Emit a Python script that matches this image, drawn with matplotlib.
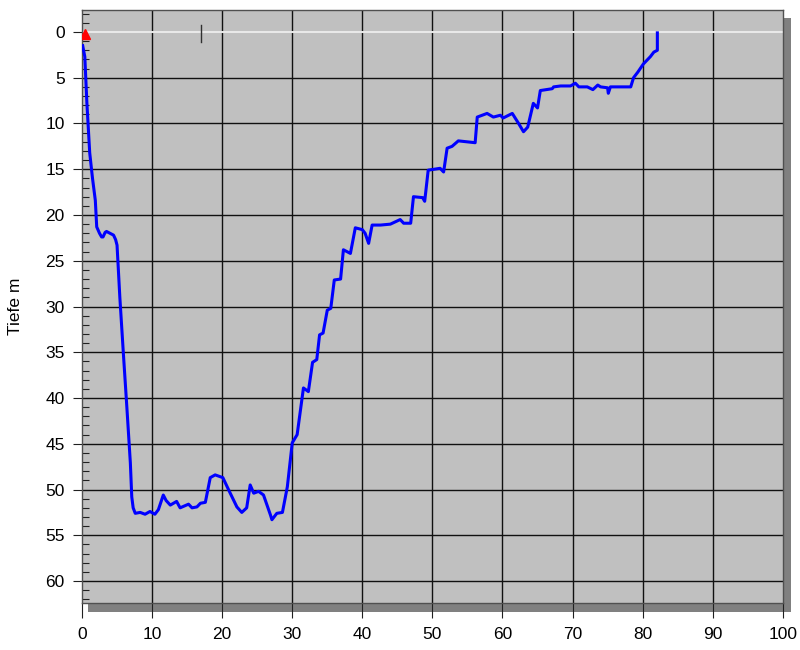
import numpy as np
import matplotlib
matplotlib.use('Agg')
import matplotlib.pyplot as plt
from matplotlib.patches import Rectangle
from matplotlib.ticker import MultipleLocator

plt.rcParams['font.family'] = ['Liberation Sans', 'DejaVu Sans']

# dive profile: time (min) and depth (m)
time = [0.1, 0.4, 0.7, 1.1, 1.5, 1.9, 2.1, 2.5, 2.8, 3.0, 3.3, 3.5, 4.0, 4.5, 4.8, 5.0,
        5.4, 5.9, 6.4, 6.9, 7.1, 7.3, 7.6, 8.3, 9.0, 9.7, 10.4, 10.9, 11.6, 12.0, 12.6,
        13.5, 14.0, 15.2, 15.7, 16.4, 16.9, 17.6, 18.3, 19.0, 20.1, 20.9, 22.1, 22.8,
        23.5, 24.0, 24.5, 25.2, 25.9, 26.9, 27.1, 27.8, 28.6, 29.3, 30.0, 30.7, 31.6,
        32.3, 32.9, 33.5, 33.9, 34.4, 35.0, 35.5, 36.0, 36.9, 37.3, 38.3, 39.0, 40.0,
        40.4, 40.9, 41.4, 42.6, 44.0, 45.4, 45.9, 46.9, 47.3, 48.6, 48.9, 49.4, 51.1,
        51.6, 52.1, 52.8, 53.7, 56.1, 56.4, 57.8, 58.7, 59.7, 60.1, 61.4, 62.3, 63.0,
        63.6, 64.4, 65.0, 65.4, 67.1, 67.3, 68.3, 69.7, 70.4, 70.9, 72.1, 72.9, 73.6,
        74.0, 75.0, 75.1, 75.4, 78.3, 78.7, 79.3, 80.1, 81.1, 81.6, 82.1, 82.1]
depth = [1.5, 2.7, 7.8, 13.2, 16.0, 18.4, 21.3, 22.0, 22.4, 22.4, 21.9, 21.8, 22.0, 22.2, 22.7, 23.3,
         29.0, 35.1, 41.0, 47.1, 50.8, 52.0, 52.6, 52.5, 52.7, 52.4, 52.7, 52.2, 50.6, 51.2, 51.7,
         51.3, 52.0, 51.6, 52.0, 51.9, 51.5, 51.4, 48.7, 48.4, 48.7, 50.0, 51.9, 52.5,
         52.0, 49.5, 50.4, 50.2, 50.6, 52.8, 53.3, 52.6, 52.5, 49.7, 44.9, 44.0, 38.9,
         39.3, 36.1, 35.8, 33.1, 32.9, 30.4, 30.2, 27.1, 27.0, 23.8, 24.2, 21.4, 21.6,
         22.0, 23.1, 21.1, 21.1, 21.0, 20.5, 20.9, 20.9, 18.0, 18.1, 18.5, 15.1, 14.9,
         15.3, 12.7, 12.5, 11.9, 12.1, 9.3, 8.9, 9.3, 9.1, 9.4, 8.9, 10.0, 10.9,
         10.4, 7.8, 8.3, 6.4, 6.2, 6.0, 5.9, 5.9, 5.6, 6.0, 6.0, 6.3, 5.8,
         6.0, 6.1, 6.7, 6.0, 6.0, 5.0, 4.4, 3.5, 2.7, 2.2, 2.0, 0.1]

start_t = [0.45]
start_d = [0.2]
event_t = [17.0]

x_ticks = np.arange(0, 101, 10)
y_ticks = np.arange(0, 61, 5)

fig = plt.figure(figsize=(8, 6.5), dpi=100)
ax = fig.add_axes([0.1025, 0.0723, 0.876, 0.9123])
ax.set_zorder(2)

# drop shadow behind the plot
shadow = Rectangle((88 / 800, 38 / 650), 703 / 800, 594 / 650, transform=fig.transFigure,
                   facecolor='#808080', edgecolor='none', zorder=-1)
fig.patches.append(shadow)

ax.set_facecolor('#c0c0c0')
ax.set_xlim(0, 100)
ax.set_ylim(62.4, -2.4)

for x in x_ticks[1:-1]:
    ax.axvline(x, color='#101010', lw=1.0, zorder=1)
for y in y_ticks:
    if y == 0:
        ax.axhline(y, color='#e8e8e8', lw=1.5, zorder=1)
    else:
        ax.axhline(y, color='#101010', lw=1.0, zorder=1)

ax.plot(time, depth, color='#0000ff', lw=2.2, zorder=3)
ax.plot(start_t, start_d, marker='^', color='#ff0000', markersize=7, ls='none', zorder=4)
for t in event_t:
    ax.plot([t, t], [-0.8, 1.1], color='#303030', lw=1.0, zorder=2)

ax.set_xticks(x_ticks)
ax.set_yticks(y_ticks)
ax.yaxis.set_minor_locator(MultipleLocator(1))
ax.tick_params(axis='x', direction='out', length=10.5, width=0.8, pad=6.5, labelsize=12.5, color='#202020')
ax.tick_params(axis='y', which='major', direction='out', length=6.5, width=0.8, pad=6, labelsize=12.5, color='#202020')
ax.tick_params(axis='y', which='minor', direction='in', length=5, width=0.8, color='#202020')

for s in ax.spines.values():
    s.set_color('#505050')
    s.set_linewidth(1.0)

ax.set_ylabel('Tiefe m', fontsize=12.5, labelpad=16)

fig.savefig('out.png', dpi=100)
